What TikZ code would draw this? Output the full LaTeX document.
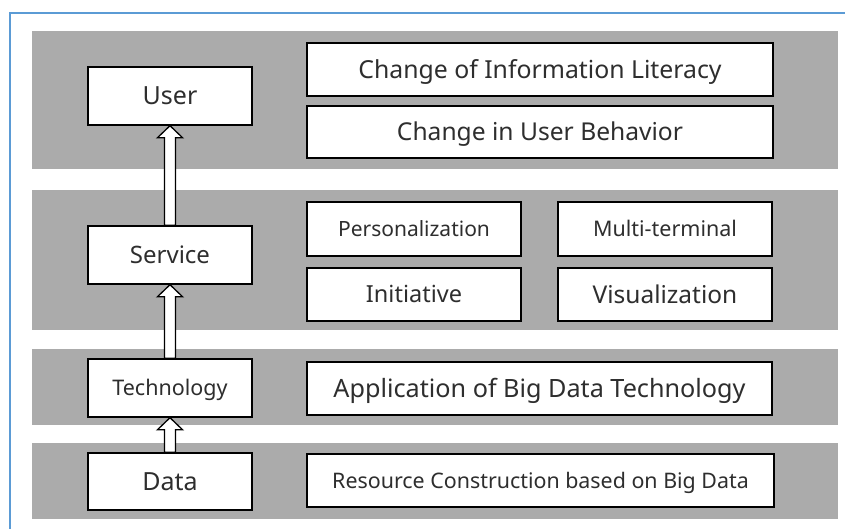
\documentclass[tikz,border=0pt]{standalone}
\usepackage{fontspec}
\setmainfont{Noto Sans}
\usetikzlibrary{calc}

\definecolor{bandgray}{HTML}{ABABAB}
\definecolor{frameblue}{HTML}{5B9BD5}
\definecolor{ink}{HTML}{2E2E2E}

\tikzset{
  layerband/.style={fill=bandgray, draw=none},
  labelbox/.style={draw=black, line width=1.4pt, fill=white, text=ink, inner sep=0pt,
                   text depth=0pt},
  hollowarrow/.style={draw=black, line width=1.3pt, fill=white, line join=miter},
}

% box given by its corners (x1,y1) (x2,y2) in pixels, font size, text;
% the text is centred on its capital height
\newcommand\layerbox[7]{%
  \node[labelbox, minimum width={(#4-#2)*1pt}, minimum height={(#5-#3)*1pt},
        text height={#6*0.72pt}, font={\fontsize{#6}{#6}\selectfont}]
    (#1) at ({(#2+#4)/2},{(#3+#5)/2}) {#7};}

% upward block arrow from the top of #1 to the bottom of #2
\newcommand\blockarrow[2]{%
  \draw[hollowarrow] let \p1=(#1.north), \p2=(#2.south) in
    (\x1-5.5pt,\y1) -- (\x1-5.5pt,\y2-12pt) -- (\x1-12.5pt,\y2-12pt) --
    (\x1,\y2) -- (\x1+12.5pt,\y2-12pt) -- (\x1+5.5pt,\y2-12pt) --
    (\x1+5.5pt,\y1) -- cycle;}

\begin{document}
\begin{tikzpicture}[x=1pt, y=-1pt]
  \useasboundingbox (0,0) rectangle (845,529);

  % outer frame (top and left edges)
  \draw[frameblue, line width=1.3pt] (10,529) -- (10,13) -- (845,13);

  % layer bands
  \fill[layerband] (32,31)  rectangle (838,169);
  \fill[layerband] (32,190) rectangle (838,330);
  \fill[layerband] (32,349) rectangle (838,425);
  \fill[layerband] (32,443) rectangle (838,519);

  % left column: layers
  \layerbox{user}{88}{67}{252}{125}{25}{User}
  \layerbox{service}{88}{226}{252}{284}{24}{Service}
  \layerbox{tech}{88}{359}{252}{417}{21.5}{Technology}
  \layerbox{data}{88}{453}{252}{510}{25}{Data}

  % right column: contents of each layer
  \layerbox{literacy}{307}{43}{773}{96}{24.8}{Change of Information Literacy}
  \layerbox{behavior}{307}{106}{773}{158}{24.6}{Change in User Behavior}
  \layerbox{personal}{307}{202}{521}{256}{21}{Personalization}
  \layerbox{initiative}{307}{268}{521}{321}{23.5}{Initiative}
  \layerbox{multi}{558}{202}{772}{256}{21.5}{Multi-terminal}
  \layerbox{visual}{558}{268}{772}{321}{24.5}{Visualization}
  \layerbox{bigtech}{307}{362}{772}{415}{25.2}{Application of Big Data Technology}
  \layerbox{resource}{307}{454}{774}{507}{21.4}{Resource Construction based on Big Data}

  % flow between layers
  \blockarrow{service}{user}
  \blockarrow{tech}{service}
  \blockarrow{data}{tech}
\end{tikzpicture}
\end{document}
